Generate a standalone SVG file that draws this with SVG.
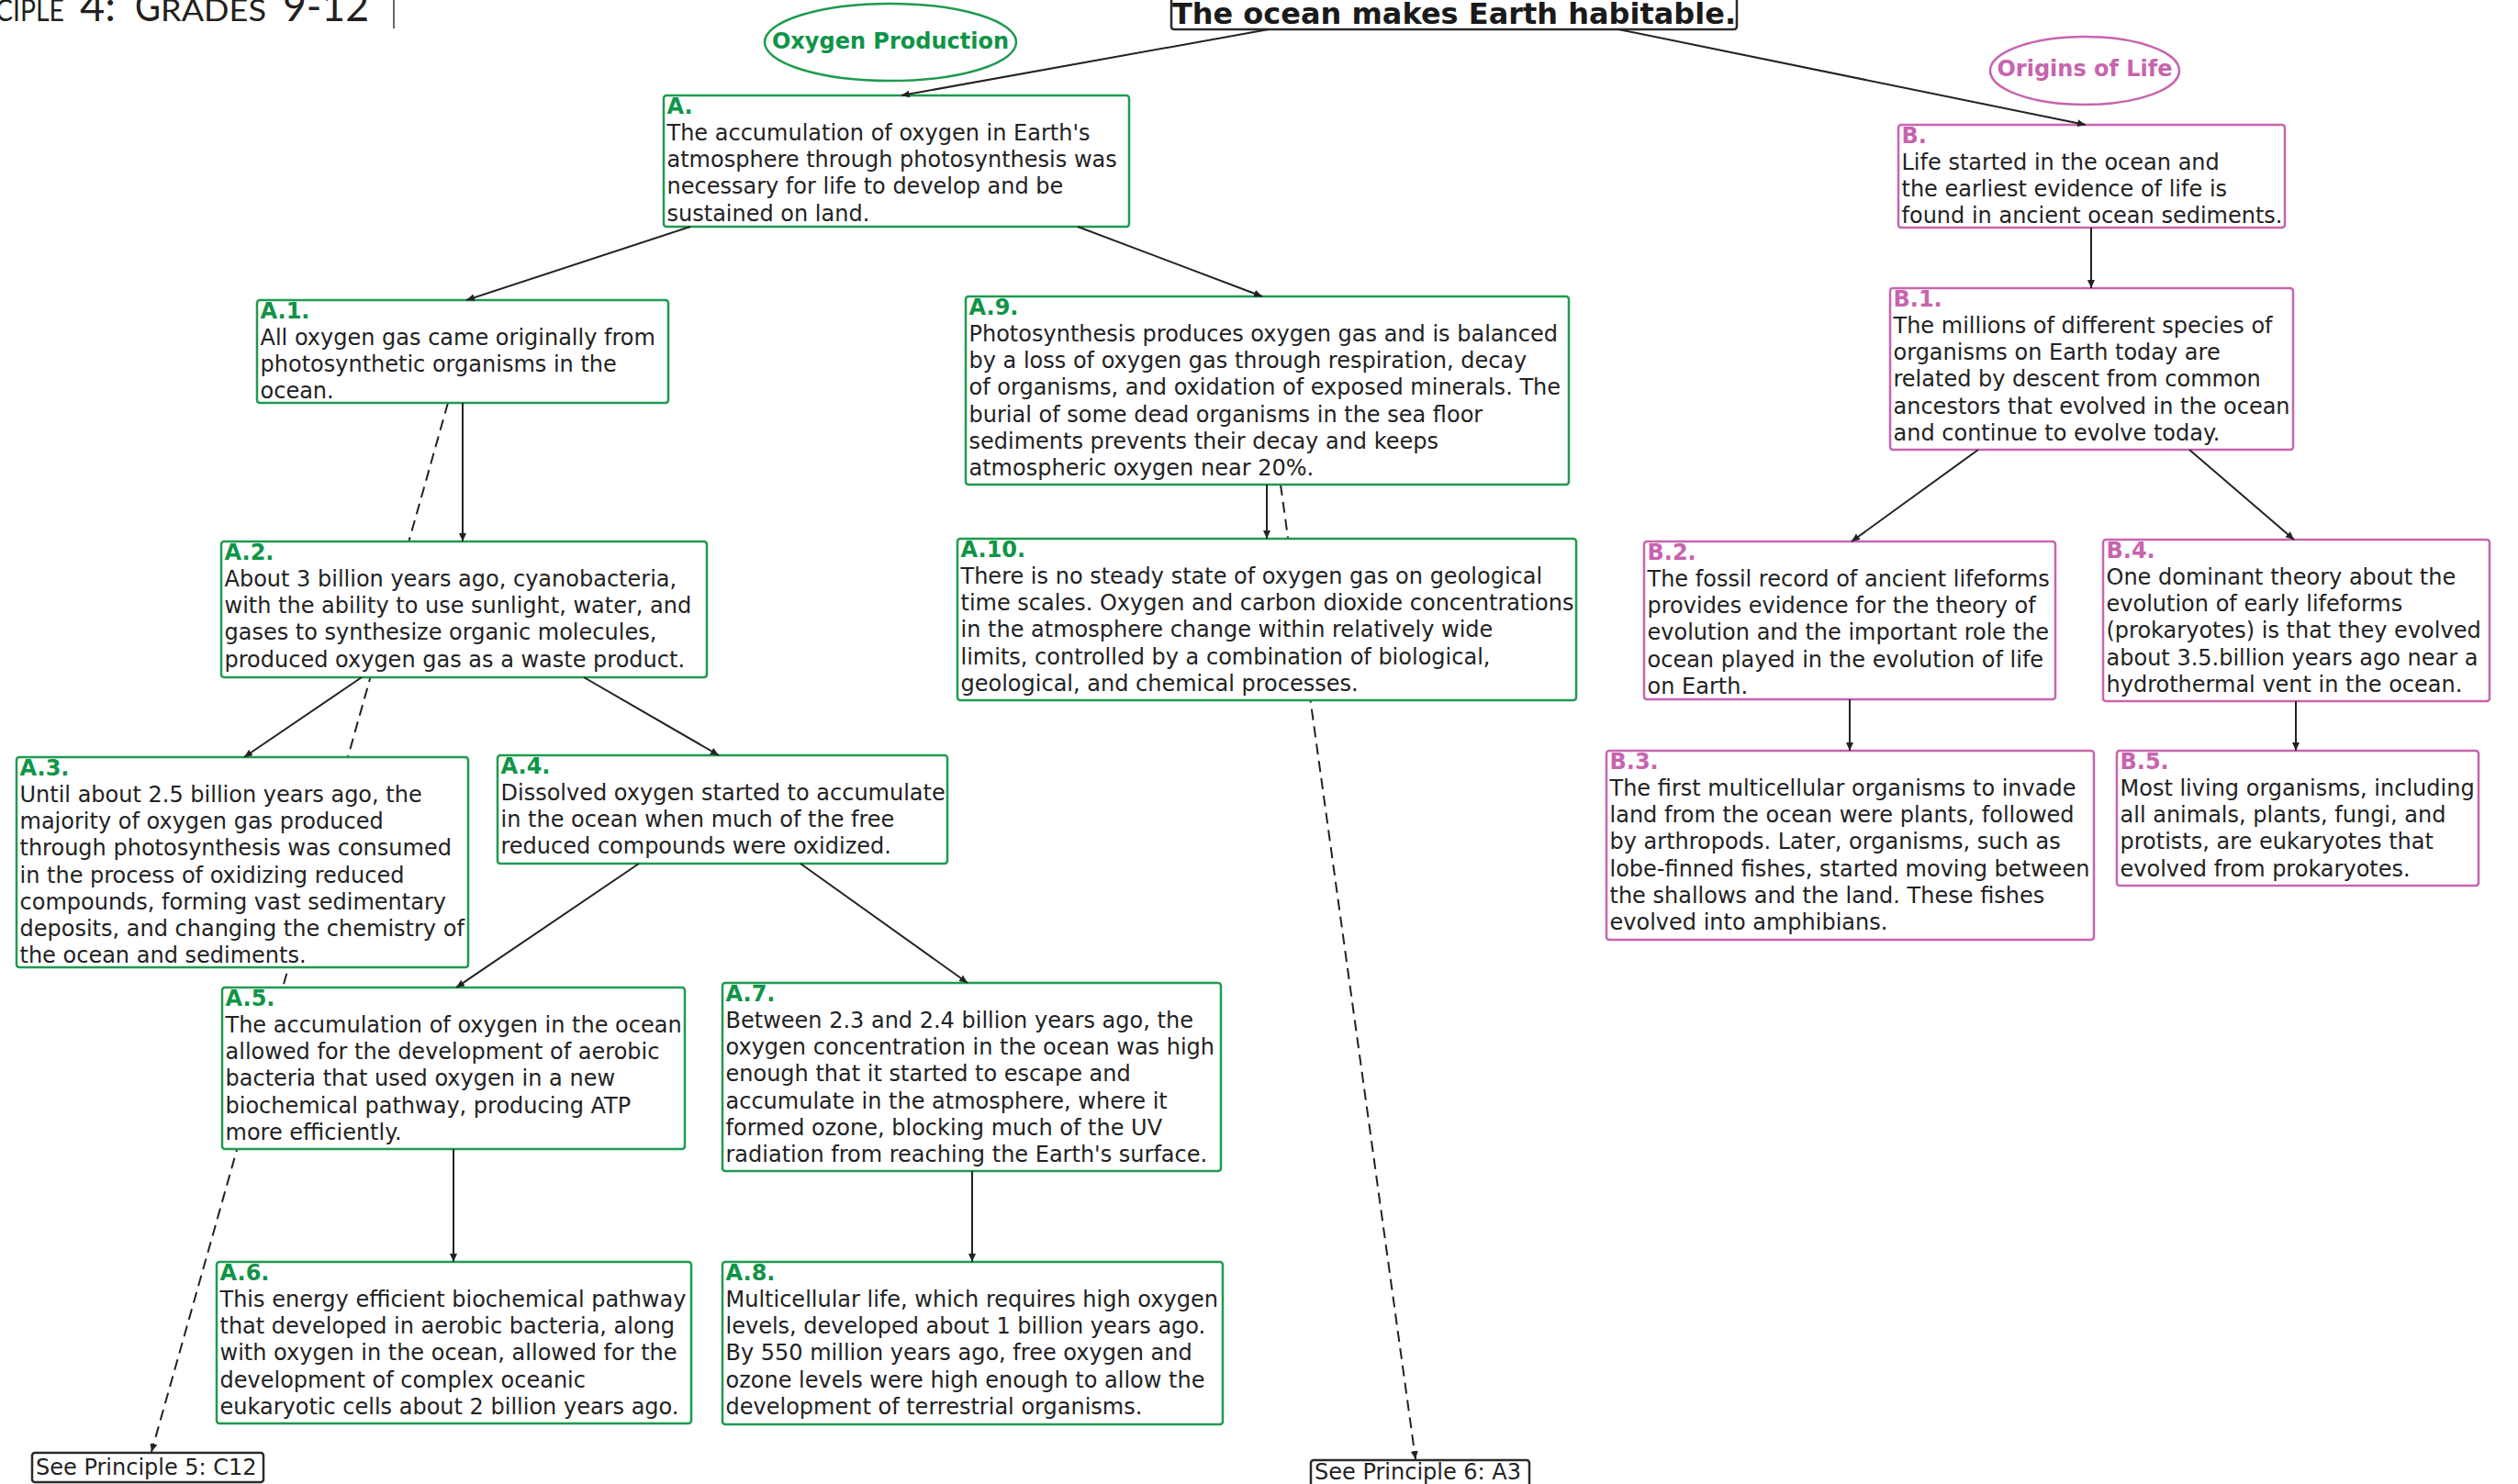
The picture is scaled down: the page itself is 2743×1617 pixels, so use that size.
<svg xmlns="http://www.w3.org/2000/svg" width="2743" height="1617" viewBox="0 0 2743 1617">
<style>
.ba{fill:#fff;stroke:#1f9a50;stroke-width:2.5}
.bb{fill:#fff;stroke:#c764ae;stroke-width:2.5}
.bk{fill:#fff;stroke:#2a2a2a;stroke-width:2.5}
.t{font-family:'DejaVu Sans',sans-serif;font-size:24px;fill:#222}
.la{font-family:'DejaVu Sans',sans-serif;font-size:24px;font-weight:bold;fill:#0f9447}
.lb{font-family:'DejaVu Sans',sans-serif;font-size:24px;font-weight:bold;fill:#c764ae}
.c{stroke:#222;stroke-width:2;fill:none;marker-end:url(#arr)}
.d{stroke-dasharray:12 7}
.hdr{font-family:Lato,'Liberation Sans',sans-serif;fill:#231f20}
</style>
<defs>
<marker id="arr" markerUnits="userSpaceOnUse" markerWidth="10" markerHeight="10" refX="9" refY="4" orient="auto">
<path d="M0,0 L9,4 L0,8 z" fill="#222"/>
</marker>
</defs>
<rect width="2743" height="1617" fill="#fff"/>

<g id="header">
<text class="hdr" y="23"><tspan x="-5" font-size="32" textLength="75" lengthAdjust="spacingAndGlyphs">CIPLE</tspan><tspan x="87" font-size="46" textLength="39" lengthAdjust="spacingAndGlyphs">4:</tspan><tspan x="147" font-size="46" textLength="28" lengthAdjust="spacingAndGlyphs">G</tspan><tspan x="175" font-size="32" textLength="115" lengthAdjust="spacingAndGlyphs">RADES</tspan><tspan x="308" font-size="46" textLength="94" lengthAdjust="spacingAndGlyphs">9-12</tspan></text>
<line x1="429" y1="0" x2="429" y2="31" stroke="#333" stroke-width="1.5"/>
</g>

<g id="connectors-dashed">
<line class="c d" x1="488" y1="439" x2="165" y2="1582"/>
<line class="c d" x1="1395" y1="528" x2="1542" y2="1590"/>
</g>

<g id="title">
<rect class="bk" x="1276" y="-3" width="616" height="35" rx="3"/>
<text x="1584" y="26" text-anchor="middle" font-family="'DejaVu Sans',sans-serif" font-size="32" font-weight="bold" fill="#1a1a1a">The ocean makes Earth habitable.</text>
</g>

<g id="oxygen-production">
<ellipse cx="970" cy="46" rx="137" ry="42" fill="#fff" stroke="#1f9a50" stroke-width="2.5"/>
<text x="970" y="53" text-anchor="middle" class="la">Oxygen Production</text>
</g>

<g id="origins-of-life">
<ellipse cx="2271" cy="77" rx="103" ry="37" fill="#fff" stroke="#c764ae" stroke-width="2.5"/>
<text x="2271" y="83" text-anchor="middle" class="lb">Origins of Life</text>
</g>

<g id="A">
<rect class="ba" x="723" y="104" width="507" height="143" rx="3"/>
<text class="la" x="726.5" y="123.5">A.</text>
<text class="t" x="726.5" y="153"><tspan x="726.5">The accumulation of oxygen in Earth's</tspan><tspan x="726.5" dy="29.2">atmosphere through photosynthesis was</tspan><tspan x="726.5" dy="29.2">necessary for life to develop and be</tspan><tspan x="726.5" dy="29.2">sustained on land.</tspan></text>
</g>

<g id="A1">
<rect class="ba" x="280" y="327" width="448" height="112" rx="3"/>
<text class="la" x="283.5" y="346.5">A.1.</text>
<text class="t" y="376"><tspan x="283.5">All oxygen gas came originally from</tspan><tspan x="283.5" dy="29.2">photosynthetic organisms in the</tspan><tspan x="283.5" dy="29.2">ocean.</tspan></text>
</g>

<g id="A2">
<rect class="ba" x="241" y="590" width="529" height="148" rx="3"/>
<text class="la" x="244.5" y="609.5">A.2.</text>
<text class="t" y="639"><tspan x="244.5">About 3 billion years ago, cyanobacteria,</tspan><tspan x="244.5" dy="29.2">with the ability to use sunlight, water, and</tspan><tspan x="244.5" dy="29.2">gases to synthesize organic molecules,</tspan><tspan x="244.5" dy="29.2">produced oxygen gas as a waste product.</tspan></text>
</g>

<g id="A3">
<rect class="ba" x="18" y="825" width="492" height="229" rx="3"/>
<text class="la" x="21.5" y="844.5">A.3.</text>
<text class="t" y="874"><tspan x="21.5">Until about 2.5 billion years ago, the</tspan><tspan x="21.5" dy="29.2">majority of oxygen gas produced</tspan><tspan x="21.5" dy="29.2">through photosynthesis was consumed</tspan><tspan x="21.5" dy="29.2">in the process of oxidizing reduced</tspan><tspan x="21.5" dy="29.2">compounds, forming vast sedimentary</tspan><tspan x="21.5" dy="29.2">deposits, and changing the chemistry of</tspan><tspan x="21.5" dy="29.2">the ocean and sediments.</tspan></text>
</g>

<g id="A4">
<rect class="ba" x="542" y="823" width="490" height="118" rx="3"/>
<text class="la" x="545.5" y="842.5">A.4.</text>
<text class="t" y="872"><tspan x="545.5">Dissolved oxygen started to accumulate</tspan><tspan x="545.5" dy="29.2">in the ocean when much of the free</tspan><tspan x="545.5" dy="29.2">reduced compounds were oxidized.</tspan></text>
</g>

<g id="A5">
<rect class="ba" x="242" y="1076" width="504" height="176" rx="3"/>
<text class="la" x="245.5" y="1095.5">A.5.</text>
<text class="t" y="1125"><tspan x="245.5">The accumulation of oxygen in the ocean</tspan><tspan x="245.5" dy="29.2">allowed for the development of aerobic</tspan><tspan x="245.5" dy="29.2">bacteria that used oxygen in a new</tspan><tspan x="245.5" dy="29.2">biochemical pathway, producing ATP</tspan><tspan x="245.5" dy="29.2">more efficiently.</tspan></text>
</g>

<g id="A6">
<rect class="ba" x="236" y="1375" width="517" height="176" rx="3"/>
<text class="la" x="239.5" y="1394.5">A.6.</text>
<text class="t" y="1424"><tspan x="239.5">This energy efficient biochemical pathway</tspan><tspan x="239.5" dy="29.2">that developed in aerobic bacteria, along</tspan><tspan x="239.5" dy="29.2">with oxygen in the ocean, allowed for the</tspan><tspan x="239.5" dy="29.2">development of complex oceanic</tspan><tspan x="239.5" dy="29.2">eukaryotic cells about 2 billion years ago.</tspan></text>
</g>

<g id="A7">
<rect class="ba" x="787" y="1071" width="543" height="205" rx="3"/>
<text class="la" x="790.5" y="1090.5">A.7.</text>
<text class="t" y="1120"><tspan x="790.5">Between 2.3 and 2.4 billion years ago, the</tspan><tspan x="790.5" dy="29.2">oxygen concentration in the ocean was high</tspan><tspan x="790.5" dy="29.2">enough that it started to escape and</tspan><tspan x="790.5" dy="29.2">accumulate in the atmosphere, where it</tspan><tspan x="790.5" dy="29.2">formed ozone, blocking much of the UV</tspan><tspan x="790.5" dy="29.2">radiation from reaching the Earth's surface.</tspan></text>
</g>

<g id="A8">
<rect class="ba" x="787" y="1375" width="545" height="177" rx="3"/>
<text class="la" x="790.5" y="1394.5">A.8.</text>
<text class="t" y="1424"><tspan x="790.5">Multicellular life, which requires high oxygen</tspan><tspan x="790.5" dy="29.2">levels, developed about 1 billion years ago.</tspan><tspan x="790.5" dy="29.2">By 550 million years ago, free oxygen and</tspan><tspan x="790.5" dy="29.2">ozone levels were high enough to allow the</tspan><tspan x="790.5" dy="29.2">development of terrestrial organisms.</tspan></text>
</g>

<g id="A9">
<rect class="ba" x="1052" y="323" width="657" height="205" rx="3"/>
<text class="la" x="1055.5" y="342.5">A.9.</text>
<text class="t" y="372"><tspan x="1055.5">Photosynthesis produces oxygen gas and is balanced</tspan><tspan x="1055.5" dy="29.2">by a loss of oxygen gas through respiration, decay</tspan><tspan x="1055.5" dy="29.2">of organisms, and oxidation of exposed minerals. The</tspan><tspan x="1055.5" dy="29.2">burial of some dead organisms in the sea floor</tspan><tspan x="1055.5" dy="29.2">sediments prevents their decay and keeps</tspan><tspan x="1055.5" dy="29.2">atmospheric oxygen near 20%.</tspan></text>
</g>

<g id="A10">
<rect class="ba" x="1043" y="587" width="674" height="176" rx="3"/>
<text class="la" x="1046.5" y="606.5">A.10.</text>
<text class="t" y="636"><tspan x="1046.5">There is no steady state of oxygen gas on geological</tspan><tspan x="1046.5" dy="29.2">time scales. Oxygen and carbon dioxide concentrations</tspan><tspan x="1046.5" dy="29.2">in the atmosphere change within relatively wide</tspan><tspan x="1046.5" dy="29.2">limits, controlled by a combination of biological,</tspan><tspan x="1046.5" dy="29.2">geological, and chemical processes.</tspan></text>
</g>

<g id="B">
<rect class="bb" x="2068" y="136" width="421" height="112" rx="3"/>
<text class="lb" x="2071.5" y="155.5">B.</text>
<text class="t" y="185"><tspan x="2071.5">Life started in the ocean and</tspan><tspan x="2071.5" dy="29.2">the earliest evidence of life is</tspan><tspan x="2071.5" dy="29.2">found in ancient ocean sediments.</tspan></text>
</g>

<g id="B1">
<rect class="bb" x="2059" y="314" width="439" height="176" rx="3"/>
<text class="lb" x="2062.5" y="333.5">B.1.</text>
<text class="t" y="363"><tspan x="2062.5">The millions of different species of</tspan><tspan x="2062.5" dy="29.2">organisms on Earth today are</tspan><tspan x="2062.5" dy="29.2">related by descent from common</tspan><tspan x="2062.5" dy="29.2">ancestors that evolved in the ocean</tspan><tspan x="2062.5" dy="29.2">and continue to evolve today.</tspan></text>
</g>

<g id="B2">
<rect class="bb" x="1791" y="590" width="448" height="172" rx="3"/>
<text class="lb" x="1794.5" y="609.5">B.2.</text>
<text class="t" y="639"><tspan x="1794.5">The fossil record of ancient lifeforms</tspan><tspan x="1794.5" dy="29.2">provides evidence for the theory of</tspan><tspan x="1794.5" dy="29.2">evolution and the important role the</tspan><tspan x="1794.5" dy="29.2">ocean played in the evolution of life</tspan><tspan x="1794.5" dy="29.2">on Earth.</tspan></text>
</g>

<g id="B3">
<rect class="bb" x="1750" y="818" width="531" height="206" rx="3"/>
<text class="lb" x="1753.5" y="837.5">B.3.</text>
<text class="t" y="867"><tspan x="1753.5">The first multicellular organisms to invade</tspan><tspan x="1753.5" dy="29.2">land from the ocean were plants, followed</tspan><tspan x="1753.5" dy="29.2">by arthropods. Later, organisms, such as</tspan><tspan x="1753.5" dy="29.2">lobe-finned fishes, started moving between</tspan><tspan x="1753.5" dy="29.2">the shallows and the land. These fishes</tspan><tspan x="1753.5" dy="29.2">evolved into amphibians.</tspan></text>
</g>

<g id="B4">
<rect class="bb" x="2291" y="588" width="421" height="176" rx="3"/>
<text class="lb" x="2294.5" y="607.5">B.4.</text>
<text class="t" y="637"><tspan x="2294.5">One dominant theory about the</tspan><tspan x="2294.5" dy="29.2">evolution of early lifeforms</tspan><tspan x="2294.5" dy="29.2">(prokaryotes) is that they evolved</tspan><tspan x="2294.5" dy="29.2">about 3.5.billion years ago near a</tspan><tspan x="2294.5" dy="29.2">hydrothermal vent in the ocean.</tspan></text>
</g>

<g id="B5">
<rect class="bb" x="2306" y="818" width="394" height="147" rx="3"/>
<text class="lb" x="2309.5" y="837.5">B.5.</text>
<text class="t" y="867"><tspan x="2309.5">Most living organisms, including</tspan><tspan x="2309.5" dy="29.2">all animals, plants, fungi, and</tspan><tspan x="2309.5" dy="29.2">protists, are eukaryotes that</tspan><tspan x="2309.5" dy="29.2">evolved from prokaryotes.</tspan></text>
</g>

<g id="see-principle-5">
<rect class="bk" x="35" y="1583" width="252" height="32" rx="3"/>
<text class="t" x="39" y="1607">See Principle 5: C12</text>
</g>

<g id="see-principle-6">
<rect class="bk" x="1428" y="1591" width="238" height="36" rx="3"/>
<text class="t" x="1432" y="1612">See Principle 6: A3</text>
</g>

<g id="connectors">
<line class="c" x1="1382" y1="32" x2="982" y2="104"/>
<line class="c" x1="1763" y1="32" x2="2272" y2="136"/>
<line class="c" x1="752" y1="247" x2="508" y2="327"/>
<line class="c" x1="1174" y1="247" x2="1375" y2="323"/>
<line class="c" x1="504" y1="439" x2="504" y2="590"/>
<line class="c" x1="394" y1="738" x2="266" y2="825"/>
<line class="c" x1="636" y1="738" x2="783" y2="823"/>
<line class="c" x1="696" y1="941" x2="497" y2="1076"/>
<line class="c" x1="872" y1="941" x2="1054" y2="1071"/>
<line class="c" x1="494" y1="1252" x2="494" y2="1375"/>
<line class="c" x1="1059" y1="1276" x2="1059" y2="1375"/>
<line class="c" x1="1380" y1="528" x2="1380" y2="587"/>
<line class="c" x1="2278" y1="248" x2="2278" y2="314"/>
<line class="c" x1="2155" y1="490" x2="2017" y2="590"/>
<line class="c" x1="2385" y1="490" x2="2499" y2="588"/>
<line class="c" x1="2015" y1="762" x2="2015" y2="818"/>
<line class="c" x1="2501" y1="764" x2="2501" y2="818"/>
</g>
</svg>
